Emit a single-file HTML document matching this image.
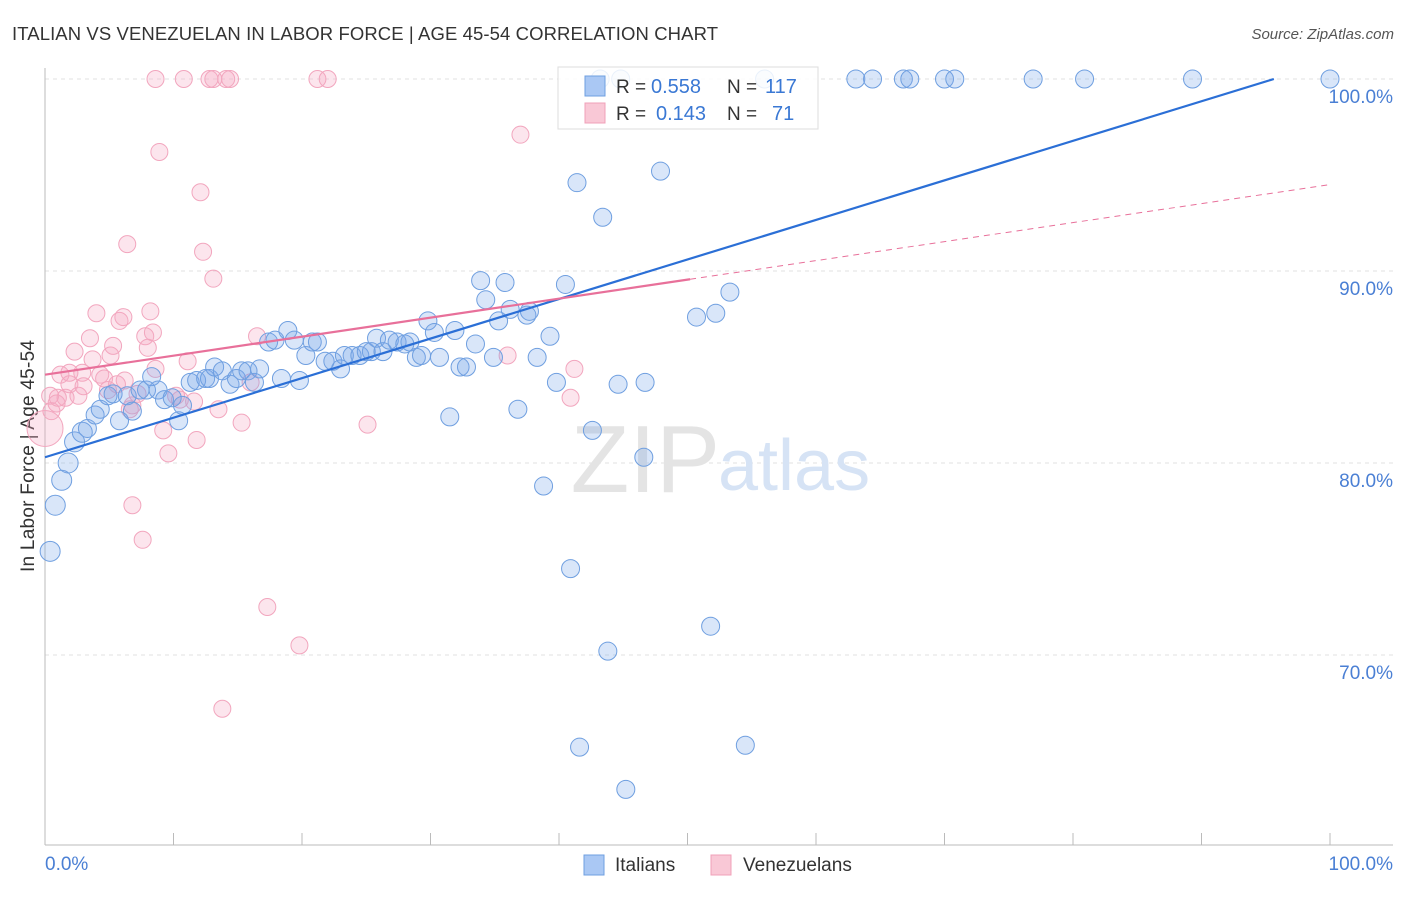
<!DOCTYPE html>
<html><head><meta charset="utf-8"><style>
body{margin:0;background:#fff;font-family:"Liberation Sans",sans-serif}
svg text{font-family:"Liberation Sans",sans-serif}
</style></head><body>
<svg id="chart" width="1406" height="892">
<text x="12" y="40" font-size="18.5" fill="#333" textLength="706">ITALIAN VS VENEZUELAN IN LABOR FORCE | AGE 45-54 CORRELATION CHART</text>
<text x="1394" y="39" font-size="15" fill="#555" font-style="italic" text-anchor="end">Source: ZipAtlas.com</text>
<text x="34" y="456" font-size="19" fill="#333" text-anchor="middle" textLength="232" transform="rotate(-90 34 456)">In Labor Force | Age 45-54</text>
<g id="grid"></g>
<text x="720" y="492" font-size="96" fill="#e4e4e4" text-anchor="end" font-family="Liberation Serif">ZIP</text>
<text x="718" y="490" font-size="72" fill="#d6e3f5">atlas</text>
<g id="marks"></g>
<g>
<rect x="558" y="67" width="260" height="62" fill="rgba(255,255,255,0.85)" stroke="#ddd"/>
<rect x="585" y="76" width="20" height="20" fill="#aac8f4" stroke="#6f9fe0"/>
<rect x="585" y="103" width="20" height="20" fill="#f9c8d6" stroke="#f0a0b8"/>
<text x="616" y="93" font-size="19" fill="#333">R = </text><text x="651" y="93" font-size="20" fill="#3a78d4">0.558</text>
<text x="727" y="93" font-size="19" fill="#333">N = </text><text x="765" y="93" font-size="20" fill="#3a78d4">117</text>
<text x="616" y="120" font-size="19" fill="#333">R = </text><text x="656" y="120" font-size="20" fill="#3a78d4">0.143</text>
<text x="727" y="120" font-size="19" fill="#333">N = </text><text x="772" y="120" font-size="20" fill="#3a78d4">71</text>
</g>
<g>
<rect x="584" y="855" width="20" height="20" fill="#aac8f4" stroke="#6f9fe0"/>
<text x="615" y="871" font-size="19" fill="#333">Italians</text>
<rect x="711" y="855" width="20" height="20" fill="#f9c8d6" stroke="#f0a0b8"/>
<text x="743" y="871" font-size="19" fill="#333">Venezuelans</text>
</g>
</svg>
<script>
const yTicks=[100,90,80,70];
const yTickLabels=["100.0%","90.0%","80.0%","70.0%"];
const xTickLabels=["0.0%","100.0%"];
const italianX=[0.4,0.8,1.3,1.8,2.3,2.9,3.3,3.9,4.3,4.9,5.3,5.8,6.4,6.8,7.4,7.9,8.3,8.8,9.3,9.9,10.4,10.7,11.3,11.8,12.5,12.8,13.2,13.8,14.4,14.9,15.3,15.8,16.3,16.7,17.4,17.9,18.4,18.9,19.4,19.8,20.3,20.8,21.2,21.8,22.4,23.0,23.3,23.9,24.5,25.0,25.4,25.8,26.3,26.8,27.4,28.0,28.4,28.9,29.3,29.8,30.3,30.7,31.5,31.9,32.3,32.8,33.5,33.9,34.3,34.9,35.3,35.8,36.2,36.8,37.5,37.7,38.3,38.8,39.3,39.8,40.5,40.9,41.4,41.6,42.6,43.4,43.8,44.6,45.2,46.6,46.7,47.9,50.7,51.8,52.2,53.3,54.5,43.2,44.8,56.0,63.1,64.4,66.8,67.3,70.0,70.8,76.9,80.9,89.3,100];
const italianY=[75.4,77.8,79.1,80.0,81.1,81.6,81.8,82.5,82.8,83.5,83.6,82.2,83.5,82.7,83.8,83.8,84.5,83.8,83.3,83.4,82.2,83.0,84.2,84.3,84.4,84.4,85.0,84.8,84.1,84.4,84.8,84.8,84.2,84.9,86.3,86.4,84.4,86.9,86.4,84.3,85.6,86.3,86.3,85.3,85.3,84.9,85.6,85.6,85.6,85.8,85.8,86.5,85.8,86.4,86.3,86.2,86.3,85.5,85.6,87.4,86.8,85.5,82.4,86.9,85.0,85.0,86.2,89.5,88.5,85.5,87.4,89.4,88.0,82.8,87.7,87.9,85.5,78.8,86.6,84.2,89.3,74.5,94.6,65.2,81.7,92.8,70.2,84.1,63.0,80.3,84.2,95.2,87.6,71.5,87.8,88.9,65.3,100,100,100,100,100,100,100,100,100,100,100,100,100];
const venezX=[0,0.4,0.5,0.9,1.2,1.6,1.9,2.3,2.6,2.9,3.0,3.5,3.7,4.0,4.3,4.6,5.1,5.3,5.6,5.8,6.1,6.4,6.6,6.8,7.2,6.8,7.6,7.8,8.0,8.2,8.4,8.6,8.9,9.2,9.6,10.2,10.5,11.1,11.6,11.8,12.1,12.3,13.1,13.5,13.8,15.3,16.0,16.5,17.3,19.8,25.1,36.0,37.0,40.9,41.2,8.6,10.8,12.8,13.1,14.1,14.4,21.2,22.0,1.9,1.0,4.9,6.2];
const venezY=[81.8,83.5,82.7,83.1,84.6,83.4,84.1,85.8,83.5,84.7,84.0,86.5,85.4,87.8,84.6,84.4,85.6,86.1,84.1,87.4,87.6,91.4,82.8,83.0,83.6,77.8,76.0,86.6,86.0,87.9,86.8,84.9,96.2,81.7,80.5,83.5,83.3,85.3,83.2,81.2,94.1,91.0,89.6,82.8,67.2,82.1,84.2,86.6,72.5,70.5,82.0,85.6,97.1,83.4,84.9,100,100,100,100,100,100,100,100,84.7,83.4,83.8,84.3];
const italianFit=[80.3,100.9];
const venezFit=[84.6,94.5];
const NS="http://www.w3.org/2000/svg";
const xs=v=>45+v*12.85;
const ys=v=>79+(100-v)*19.2;
function mk(tag,attrs,parent){const e=document.createElementNS(NS,tag);for(const k in attrs)e.setAttribute(k,attrs[k]);parent.appendChild(e);return e;}
const grid=document.getElementById('grid'),marks=document.getElementById('marks');
yTicks.forEach((t,i)=>{
 const l=mk('line',{x1:45,x2:1393,y1:ys(t),y2:ys(t),stroke:'#e2e2e2','stroke-dasharray':'4,4'},grid);
 
 
 const tx=mk('text',{x:1393,y:ys(t)+24,'font-size':19,fill:'#4a7fd4','text-anchor':'end'},grid);
 tx.textContent=yTickLabels[i];
 
 
});
const ax=mk('line',{x1:45,x2:1393,y1:845,y2:845,stroke:'#bbb'},grid);


const ay=mk('line',{x1:45,x2:45,y1:68,y2:845,stroke:'#bbb'},grid);


for(let i=0;i<=10;i++){const t=mk('line',{x1:45+i*128.5,x2:45+i*128.5,y1:833,y2:845,stroke:'#bbb'},grid);
 
 }
[[0,'start',45],[100,'end',1393]].forEach((d,i)=>{const t=mk('text',{x:d[2],y:870,'font-size':19,fill:'#4a7fd4','text-anchor':d[1]},grid);t.textContent=xTickLabels[i];
 
 });
venezX.forEach((x,i)=>{const c=mk('circle',{cx:xs(x),cy:ys(venezY[i]),r:i===0?18:8.5,fill:'rgba(246,170,196,0.3)',stroke:'#f2a6be','stroke-width':1},marks);
 
 });
italianX.forEach((x,i)=>{const c=mk('circle',{cx:xs(x),cy:ys(italianY[i]),r:i<6?10:9,fill:'rgba(120,165,235,0.28)',stroke:'#6f9fe0','stroke-width':1},marks);
 
 });
const bEndX=(100-italianFit[0])/((italianFit[1]-italianFit[0])/100);
const bl=mk('line',{x1:xs(0),y1:ys(italianFit[0]),x2:xs(bEndX),y2:ys(100),stroke:'#2b6fd6','stroke-width':2.2},marks);


const pv=x=>venezFit[0]+(venezFit[1]-venezFit[0])*x/100;
const pl=mk('line',{x1:xs(0),y1:ys(pv(0)),x2:xs(50.2),y2:ys(pv(50.2)),stroke:'#e8709a','stroke-width':2.2},marks);


const pd=mk('line',{x1:xs(50.2),y1:ys(pv(50.2)),x2:xs(100),y2:ys(pv(100)),stroke:'#e8709a','stroke-width':1,'stroke-dasharray':'6,5'},marks);


</script>
</body></html>
